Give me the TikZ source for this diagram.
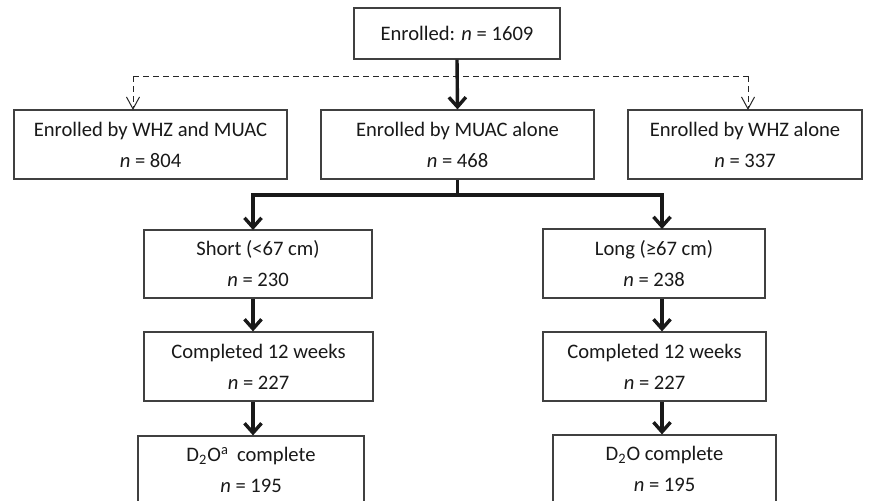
\documentclass[tikz,border=0pt]{standalone}
\usepackage{fontspec}
\setmainfont{Carlito}
\usetikzlibrary{arrows.meta}
\begin{document}
\begin{tikzpicture}[x=0.5pt,y=-0.5pt,
  box/.style={draw=black!75, line width=0.6pt, inner sep=0pt, align=center,
    text=black!90, font=\fontsize{10.3}{15.5}\selectfont},
  thickarrow/.style={line width=1.7pt, draw=black!90,
    -{Straight Barb[length=4.8pt,width=8.5pt,line width=1.7pt]}},
  thickline/.style={line width=1.7pt, draw=black!90},
  dasharrow/.style={line width=0.5pt, draw=black!85, dash pattern=on 3pt off 2pt,
    -{Straight Barb[length=6pt,width=6.5pt,line width=0.5pt]}},
  dashline/.style={line width=0.5pt, draw=black!85, dash pattern=on 3pt off 2pt}]
\clip (0,0) rectangle (870,500);
\fill[white] (0,0) rectangle (870,500);

\node[box, minimum width=103pt, minimum height=25.5pt] (top) at (457,33.5) {Enrolled: \textit{n} = 1609};

\node[box, minimum width=136.5pt, minimum height=34.5pt] (wm) at (150.5,144.5) {Enrolled by WHZ and MUAC\\\textit{n} = 804};
\node[box, minimum width=136.5pt, minimum height=34.5pt] (mu) at (457.5,144.5) {Enrolled by MUAC alone\\\textit{n} = 468};
\node[box, minimum width=117pt, minimum height=34.5pt] (wz) at (745,144.5) {Enrolled by WHZ alone\\\textit{n} = 337};

\node[box, minimum width=114pt, minimum height=34pt] (sh) at (258,264) {Short (<67 cm)\\\textit{n} = 230};
\node[box, minimum width=114.5pt, minimum height=34.5pt] (c1) at (258.5,366.5) {Completed 12 weeks\\\textit{n} = 227};
\node[box, minimum width=113pt, minimum height=34pt] (d1) at (251,470) {D\textsubscript{2}O\textsuperscript{a}\, complete\\\textit{n} = 195};

\node[box, minimum width=111pt, minimum height=34.5pt] (lg) at (654,263.5) {Long (≥67 cm)\\\textit{n} = 238};
\node[box, minimum width=111.5pt, minimum height=34.5pt] (c2) at (654.5,366.5) {Completed 12 weeks\\\textit{n} = 227};
\node[box, minimum width=111.5pt, minimum height=34pt] (d2) at (664.5,469) {D\textsubscript{2}O complete\\\textit{n} = 195};

% dashed split
\coordinate (dl) at (133,76);
\coordinate (dr) at (748,76);
\coordinate (wmtop) at (133,110);
\coordinate (wztop) at (748,110);
\draw[dashline] (dl) -- (dr);
\draw[dasharrow] (dl) -- (wmtop);
\draw[dasharrow] (dr) -- (wztop);

% main arrow
\draw[thickarrow] (top.south) -- (mu.north);

% split to columns
\coordinate (split) at (457.5,195);
\coordinate (shtop) at (253,230);
\coordinate (lgtop) at (662,229);
\draw[thickline] (mu.south) -- (split);
\draw[thickarrow] (split) -| (shtop);
\draw[thickarrow] (split) -| (lgtop);

% left column
\draw[thickarrow] (sh.south -| shtop) -- (c1.north -| shtop);
\draw[thickarrow] (c1.south -| shtop) -- (d1.north -| shtop);
% right column
\draw[thickarrow] (lg.south -| lgtop) -- (c2.north -| lgtop);
\draw[thickarrow] (c2.south -| lgtop) -- (d2.north -| lgtop);
\end{tikzpicture}
\end{document}
